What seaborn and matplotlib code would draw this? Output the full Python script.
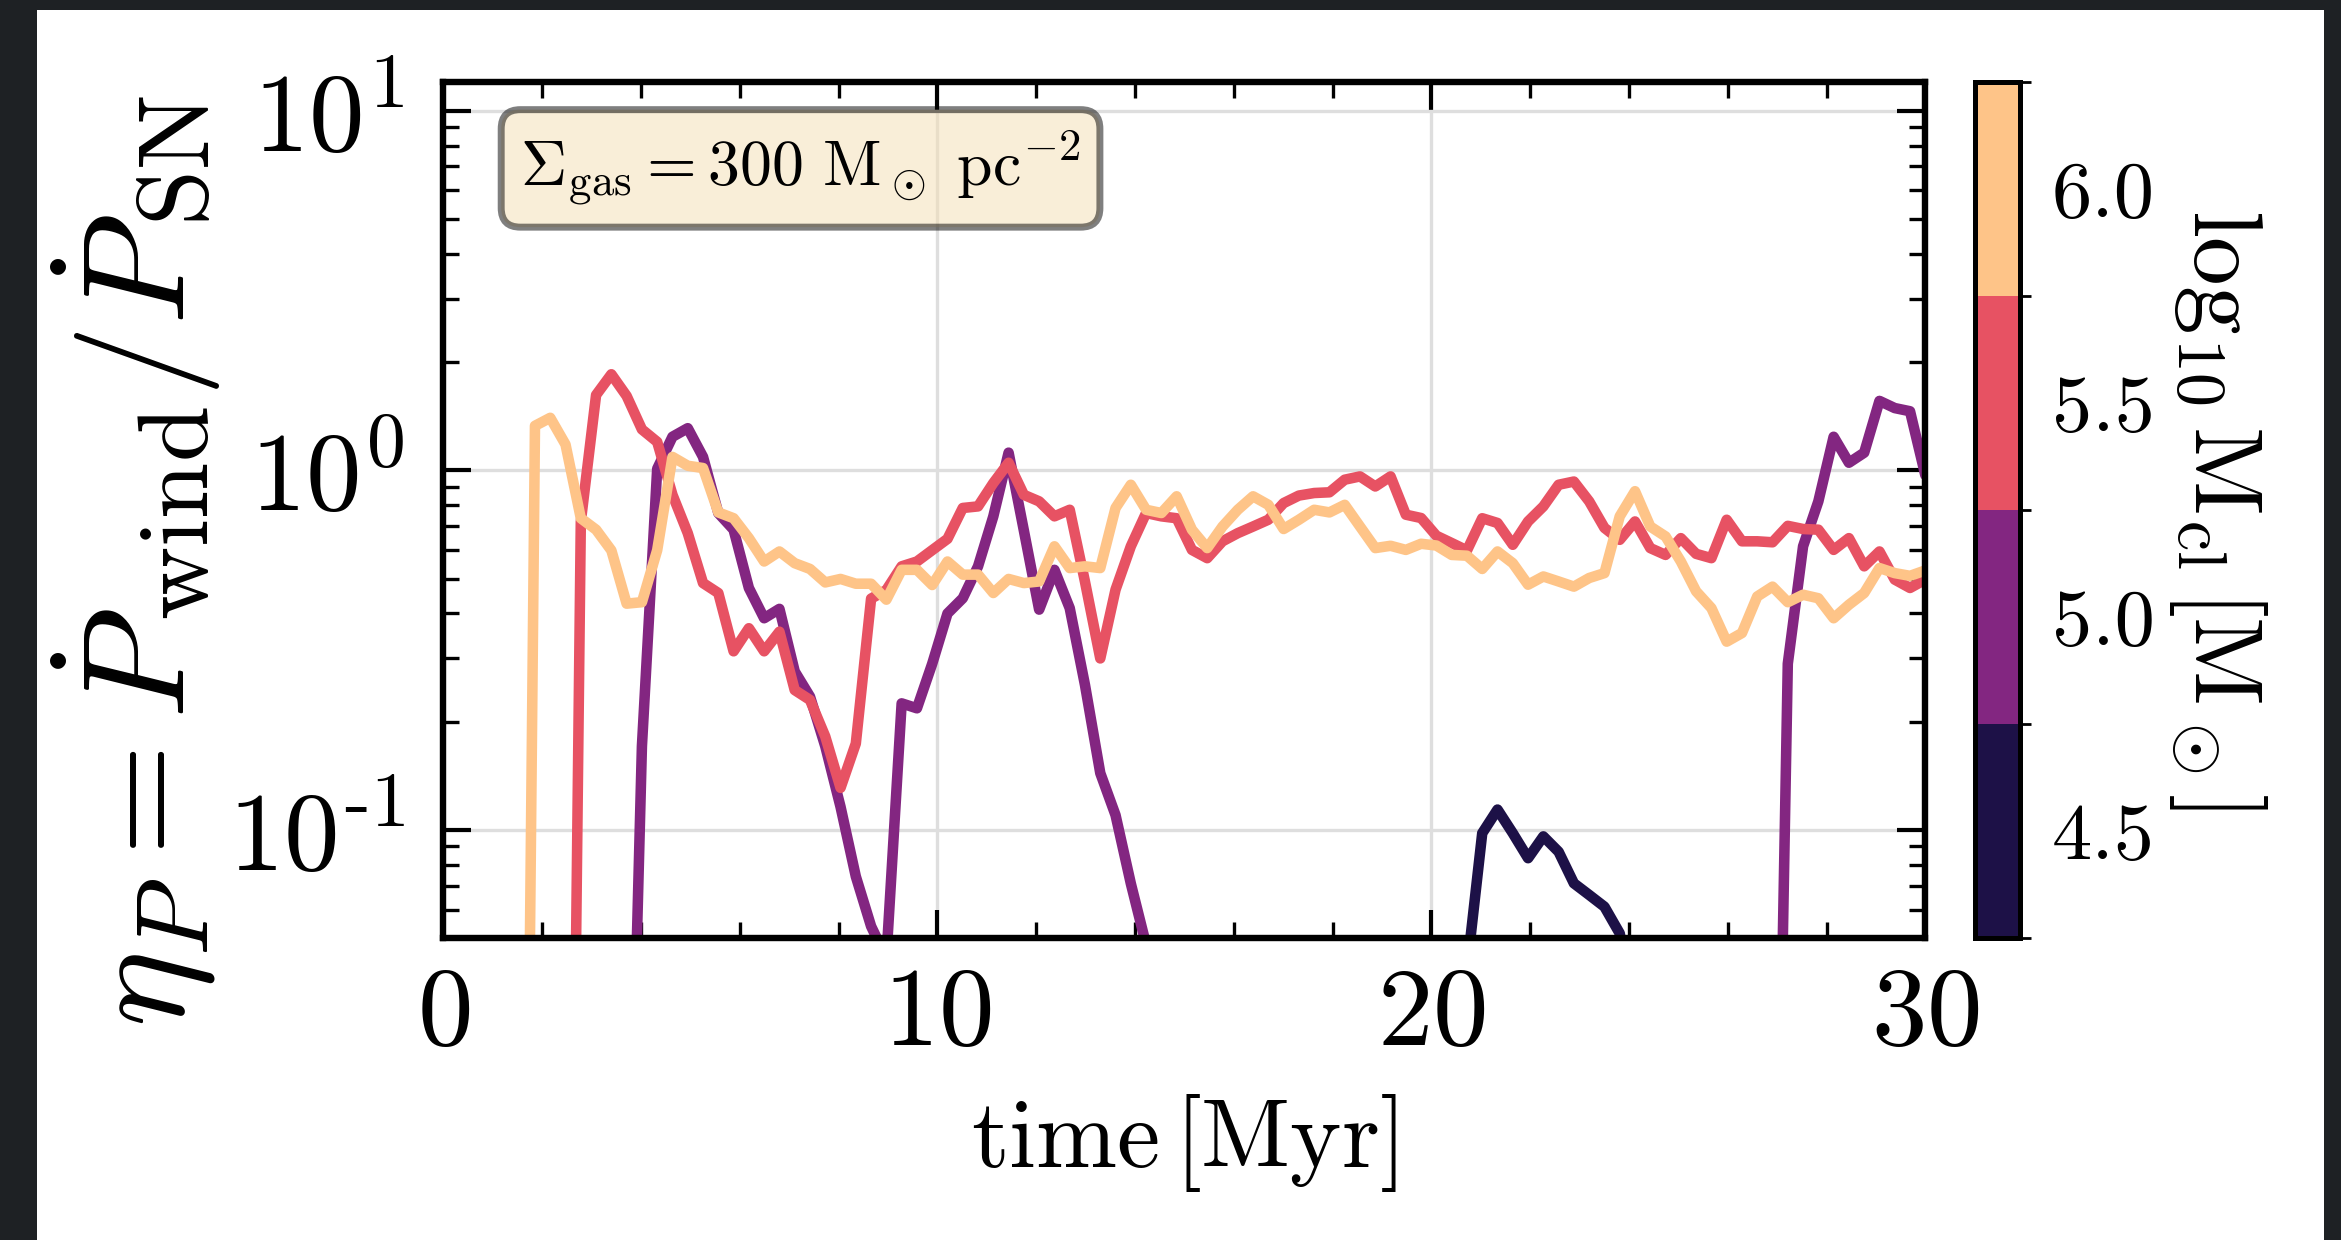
import numpy as np
import pandas as pd
import matplotlib
matplotlib.use("Agg")
import matplotlib as mpl
import matplotlib.pyplot as plt
from matplotlib.colors import ListedColormap, BoundaryNorm
from matplotlib.patches import Rectangle
from matplotlib.ticker import LogLocator, MultipleLocator, NullFormatter, FuncFormatter
import seaborn as sns

# ---------------------------------------------------------------- data
# snapshot times [Myr]
time_myr = np.linspace(0.0, 30.0, 98)

# cluster masses (log10 M_cl / M_sun)
log_mcl = [4.5, 5.0, 5.5, 6.0]
log_mcl_labels = ["4.5", "5.0", "5.5", "6.0"]

# momentum loading eta_P = Pdot_wind / Pdot_SN (values below the plotted
# range are kept as small numbers so the curves enter/leave the frame)
eta_45 = [
    0.001, 0.001, 0.001, 0.001, 0.001, 0.001, 0.001, 0.001, 0.001, 0.001,
    0.001, 0.001, 0.001, 0.001, 0.001, 0.001, 0.001, 0.001, 0.001, 0.001,
    0.001, 0.001, 0.001, 0.001, 0.001, 0.001, 0.001, 0.001, 0.001, 0.001,
    0.001, 0.001, 0.001, 0.001, 0.001, 0.001, 0.001, 0.001, 0.001, 0.001,
    0.001, 0.001, 0.001, 0.001, 0.001, 0.001, 0.001, 0.001, 0.001, 0.001,
    0.001, 0.001, 0.001, 0.001, 0.001, 0.001, 0.001, 0.001, 0.001, 0.001,
    0.001, 0.001, 0.001, 0.001, 0.001, 0.001, 0.001, 0.041, 0.098, 0.114,
    0.098, 0.0835, 0.096, 0.087, 0.0711, 0.066, 0.0612, 0.0516, 0.030, 0.001,
    0.001, 0.001, 0.001, 0.001, 0.001, 0.001, 0.001, 0.001, 0.001, 0.001,
    0.001, 0.001, 0.001, 0.001, 0.001, 0.001, 0.001, 0.001,
]
eta_50 = [
    0.004, 0.004, 0.004, 0.004, 0.004, 0.004, 0.004, 0.004, 0.004, 0.004,
    0.004, 0.004, 0.004, 0.171, 1.01, 1.24, 1.31, 1.09, 0.761, 0.684,
    0.471, 0.388, 0.412, 0.276, 0.235, 0.171, 0.116, 0.0743, 0.054, 0.044,
    0.225, 0.218, 0.29, 0.40, 0.441, 0.541, 0.745, 1.12, 0.68, 0.41,
    0.529, 0.414, 0.253, 0.144, 0.110, 0.071, 0.048, 0.001, 0.001, 0.001,
    0.001, 0.001, 0.001, 0.001, 0.001, 0.001, 0.001, 0.001, 0.001, 0.001,
    0.001, 0.001, 0.001, 0.001, 0.001, 0.001, 0.001, 0.001, 0.001, 0.001,
    0.001, 0.001, 0.001, 0.001, 0.001, 0.001, 0.001, 0.001, 0.001, 0.001,
    0.001, 0.001, 0.001, 0.001, 0.001, 0.001, 0.001, 0.0013, 0.29, 0.615,
    0.820, 1.24, 1.05, 1.12, 1.56, 1.49, 1.46, 0.97,
]
eta_55 = [
    1.2e-4, 1.2e-4, 1.2e-4, 1.2e-4, 1.2e-4, 1.2e-4, 1.2e-4, 1.2e-4, 1.2e-4, 0.72,
    1.62, 1.85, 1.61, 1.30, 1.20, 0.855, 0.669, 0.486, 0.456, 0.314,
    0.364, 0.314, 0.356, 0.245, 0.230, 0.182, 0.131, 0.174, 0.44, 0.465,
    0.541, 0.558, 0.60, 0.645, 0.786, 0.794, 0.922, 1.05, 0.855, 0.820,
    0.745, 0.777, 0.49, 0.30, 0.466, 0.615, 0.761, 0.745, 0.736, 0.601,
    0.570, 0.635, 0.669, 0.698, 0.729, 0.811, 0.851, 0.865, 0.869, 0.942,
    0.962, 0.902, 0.962, 0.753, 0.737, 0.658, 0.628, 0.599, 0.736, 0.714,
    0.621, 0.721, 0.794, 0.912, 0.931, 0.820, 0.692, 0.641, 0.721, 0.608,
    0.582, 0.648, 0.586, 0.570, 0.729, 0.635, 0.635, 0.631, 0.701, 0.687,
    0.684, 0.601, 0.648, 0.541, 0.595, 0.497, 0.471, 0.497,
]
eta_60 = [
    6e-5, 6e-5, 6e-5, 6e-5, 6e-5, 6e-5, 1.33, 1.40, 1.18, 0.736,
    0.684, 0.599, 0.426, 0.43, 0.60, 1.09, 1.03, 1.015, 0.764, 0.736,
    0.648, 0.558, 0.595, 0.552, 0.532, 0.488, 0.499, 0.484, 0.484, 0.437,
    0.529, 0.529, 0.48, 0.558, 0.513, 0.513, 0.456, 0.499, 0.486, 0.491,
    0.615, 0.535, 0.541, 0.535, 0.786, 0.912, 0.777, 0.761, 0.847, 0.684,
    0.608, 0.698, 0.777, 0.847, 0.802, 0.687, 0.729, 0.777, 0.764, 0.802,
    0.698, 0.608, 0.617, 0.601, 0.625, 0.618, 0.582, 0.579, 0.532, 0.595,
    0.552, 0.481, 0.507, 0.491, 0.475, 0.502, 0.518, 0.745, 0.875, 0.698,
    0.655, 0.558, 0.461, 0.414, 0.334, 0.353, 0.446, 0.475, 0.430, 0.451,
    0.441, 0.388, 0.423, 0.456, 0.535, 0.518, 0.509, 0.527,
]

series = {"4.5": eta_45, "5.0": eta_50, "5.5": eta_55, "6.0": eta_60}
df = pd.concat(
    [pd.DataFrame({"time": time_myr, "eta": vals, "logM": key})
     for key, vals in series.items()],
    ignore_index=True,
)

# ---------------------------------------------------------------- style
sns.set_theme(style="ticks")
plt.rcParams.update({
    "font.family": "serif",
    "font.serif": ["cmr10", "DejaVu Serif"],
    "mathtext.fontset": "cm",
    "axes.formatter.use_mathtext": True,
    "axes.unicode_minus": False,
    "axes.edgecolor": "black",
    "axes.labelcolor": "black",
    "text.color": "black",
    "xtick.color": "black",
    "ytick.color": "black",
})

LW = 3.8
cmap = ListedColormap(mpl.colormaps["magma"](np.linspace(0.125, 0.875, 4)))
palette = {lab: cmap(i) for i, lab in enumerate(log_mcl_labels)}

W, H, DPI = 2341, 1240, 200
fig = plt.figure(figsize=(W / DPI, H / DPI), dpi=DPI, facecolor="#1e2124")
fig.patches.append(Rectangle((37 / W, 0), (2324 - 37) / W, (H - 10) / H,
                             transform=fig.transFigure, facecolor="white",
                             edgecolor="none", zorder=-10))

ax = fig.add_axes([443.3 / W, 1 - 938.3 / H, (1925.3 - 443.3) / W, (938.3 - 81.7) / H])
ax.set_facecolor("white")

sns.lineplot(data=df, x="time", y="eta", hue="logM", hue_order=log_mcl_labels,
             palette=palette, estimator=None, sort=False, linewidth=LW,
             legend=False, ax=ax)
for line in ax.lines:
    line.set_linewidth(LW)
    line.set_solid_joinstyle("round")

ax.set_yscale("log")
ax.set_xlim(0, 30)
ax.set_ylim(0.05, 12.04)


def decade_label(v, pos):
    e = int(round(np.log10(v)))
    exp = r"\text{-}%d" % (-e) if e < 0 else "%d" % e
    return r"$\mathdefault{10^{%s}}$" % exp


ax.xaxis.set_major_locator(MultipleLocator(10))
ax.xaxis.set_minor_locator(MultipleLocator(2))
ax.yaxis.set_major_locator(LogLocator(base=10, numticks=10))
ax.yaxis.set_major_formatter(FuncFormatter(decade_label))
ax.yaxis.set_minor_locator(LogLocator(base=10, subs=np.arange(2, 10), numticks=100))
ax.yaxis.set_minor_formatter(NullFormatter())

ax.tick_params(which="both", direction="in", top=True, right=True, labelsize=40)
ax.tick_params(which="major", length=10, width=1.5)
ax.tick_params(which="minor", length=5.8, width=1.2)
ax.tick_params(axis="x", which="major", pad=10.5)
ax.tick_params(axis="y", which="major", pad=14)
for sp in ax.spines.values():
    sp.set_linewidth(2.3)
    sp.set_color("black")

ax.grid(True, which="major", color="#dedede", linewidth=1.2)
ax.set_axisbelow(True)

ax.set_xlabel(r"$\mathrm{time}\,[\mathrm{Myr}]$", fontsize=35)
ax.xaxis.set_label_coords(0.5, -0.18)
ax.set_ylabel(r"$\eta_P = \dot{P}_{\rm wind}/\dot{P}_{\rm SN}$", fontsize=52, va="center")
ax.yaxis.set_label_coords(-0.2067, 0.441)

props = dict(boxstyle="round", facecolor="wheat", edgecolor="black", alpha=0.5, linewidth=2.5)
ax.text(0.052, 0.945, r"$\Sigma_{\rm gas} = 300\ {\rm M_\odot\ pc^{-2}}$",
        transform=ax.transAxes, fontsize=23, va="top", ha="left", bbox=props)

# ---------------------------------------------------------------- colorbar
cax = fig.add_axes([1975 / W, 1 - 938.3 / H, 45 / W, (938.3 - 81.7) / H])
norm = BoundaryNorm([4.25, 4.75, 5.25, 5.75, 6.25], cmap.N)
cb = fig.colorbar(mpl.cm.ScalarMappable(norm=norm, cmap=cmap), cax=cax, ticks=log_mcl)
cb.ax.set_yticklabels(log_mcl_labels)
cb.ax.tick_params(length=0, labelsize=29, pad=11.5)
cb.outline.set_linewidth(1.8)
cb.set_label(r"$\log_{10}\mathrm{M_{cl}}\,[\mathrm{M_\odot}]$", rotation=270,
             fontsize=35, va="center", ha="center")
cb.ax.yaxis.set_label_coords(5.4, 0.5)

fig.savefig("out.png", dpi=DPI, facecolor=fig.get_facecolor())
